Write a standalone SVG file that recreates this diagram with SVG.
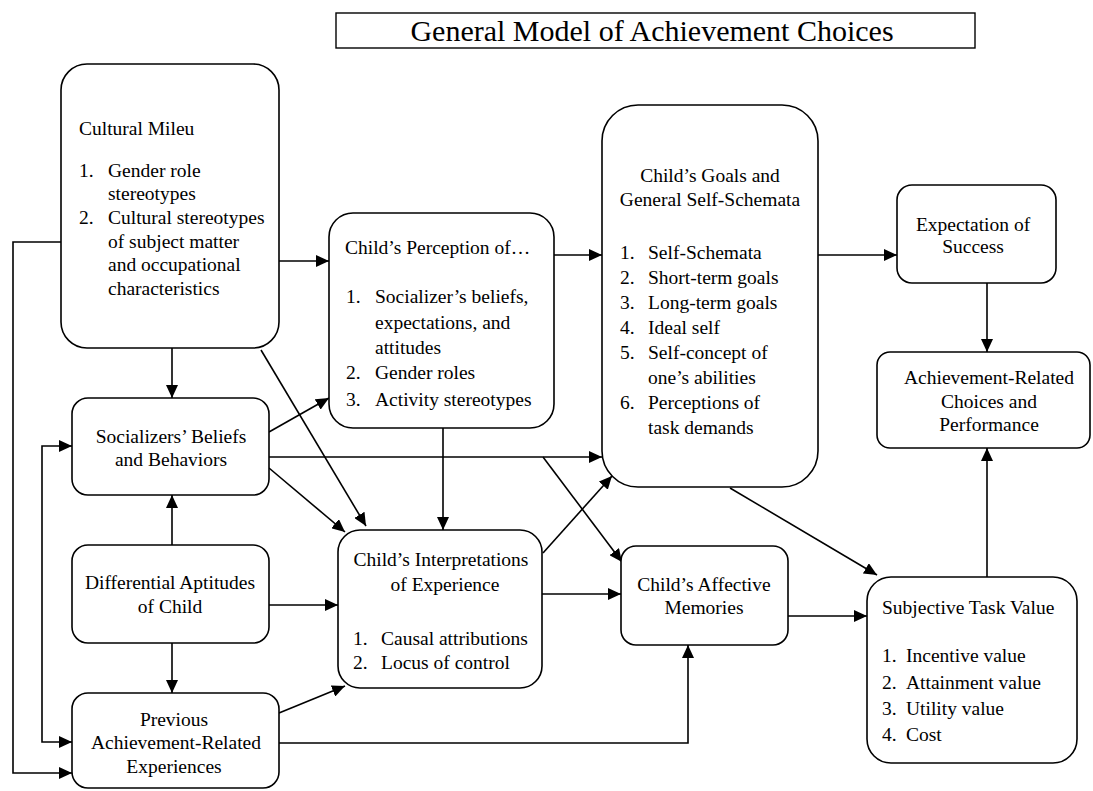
<svg xmlns="http://www.w3.org/2000/svg" width="1093" height="791" viewBox="0 0 1093 791">
  <defs>
    <marker id="arrow" markerUnits="userSpaceOnUse" markerWidth="14" markerHeight="12" refX="13" refY="6" orient="auto">
      <path d="M0,0 L13,6 L0,12 Z" fill="#000"/>
    </marker>
    <style>
      .box { fill: #fff; stroke: #000; stroke-width: 1.6; }
      .t { font-family: "Liberation Serif", "Times New Roman", serif; font-size: 19.5px; fill: #000; }
      .c { text-anchor: middle; }
      .title { font-family: "Liberation Serif", "Times New Roman", serif; font-size: 30px; fill: #000; text-anchor: middle; }
      .edge { fill: none; stroke: #000; stroke-width: 1.6; }
      .arr { marker-end: url(#arrow); }
    </style>
  </defs>
  <rect width="1093" height="791" fill="#fff"/>

  <g id="title">
    <rect x="336" y="13" width="639" height="35" fill="#fff" stroke="#000" stroke-width="1.4"/>
    <text class="title" x="652" y="41">General Model of Achievement Choices</text>
  </g>

  <g id="connectors">
    <path class="edge arr" d="M279,261 H329"/>
    <path class="edge arr" d="M172,348 V398"/>
    <path class="edge arr" d="M261,350 L366,526"/>
    <path class="edge arr" d="M61,242 H13 V773 H72"/>
    <path class="edge arr" d="M42,594 V446 H72"/>
    <path class="edge arr" d="M42,594 V742 H72"/>
    <path class="edge arr" d="M269,432 L329,398"/>
    <path class="edge arr" d="M269,457 H602"/>
    <path class="edge arr" d="M269,468 L345,532"/>
    <path class="edge arr" d="M543,457 L622,562"/>
    <path class="edge arr" d="M172,545 V495"/>
    <path class="edge arr" d="M172,643 V693"/>
    <path class="edge arr" d="M269,605 H338"/>
    <path class="edge arr" d="M279,713 L345,686"/>
    <path class="edge arr" d="M279,743 H688 V645"/>
    <path class="edge arr" d="M554,255 H602"/>
    <path class="edge arr" d="M443,428 V530"/>
    <path class="edge arr" d="M543,553 L612,476"/>
    <path class="edge arr" d="M542,594 H621"/>
    <path class="edge arr" d="M818,255 H897"/>
    <path class="edge arr" d="M730,488 L877,575"/>
    <path class="edge arr" d="M788,616 H867"/>
    <path class="edge arr" d="M987,283 V352"/>
    <path class="edge arr" d="M987,577 V448"/>
  </g>

  <g id="cultural-mileu">
    <rect class="box" x="61" y="64" width="218" height="284" rx="26"/>
    <text class="t" x="79" y="135">Cultural Mileu</text>
    <text class="t" x="79" y="177">1.</text>
    <text class="t" x="108" y="177">Gender role</text>
    <text class="t" x="108" y="200">stereotypes</text>
    <text class="t" x="79" y="224">2.</text>
    <text class="t" x="108" y="224">Cultural stereotypes</text>
    <text class="t" x="108" y="248">of subject matter</text>
    <text class="t" x="108" y="271">and occupational</text>
    <text class="t" x="108" y="295">characteristics</text>
  </g>

  <g id="socializers">
    <rect class="box" x="72" y="398" width="197" height="97" rx="16"/>
    <text class="t c" x="171" y="443">Socializers’ Beliefs</text>
    <text class="t c" x="171" y="466">and Behaviors</text>
  </g>

  <g id="aptitudes">
    <rect class="box" x="72" y="545" width="197" height="98" rx="16"/>
    <text class="t c" x="170" y="589">Differential Aptitudes</text>
    <text class="t c" x="170" y="613">of Child</text>
  </g>

  <g id="previous-experiences">
    <rect class="box" x="72" y="693" width="207" height="95" rx="16"/>
    <text class="t c" x="174" y="726">Previous</text>
    <text class="t c" x="176" y="749">Achievement-Related</text>
    <text class="t c" x="174" y="773">Experiences</text>
  </g>

  <g id="perception">
    <rect class="box" x="329" y="213" width="225" height="215" rx="24"/>
    <text class="t" x="345" y="254">Child’s Perception of…</text>
    <text class="t" x="346" y="303">1.</text>
    <text class="t" x="375" y="303">Socializer’s beliefs,</text>
    <text class="t" x="375" y="329">expectations, and</text>
    <text class="t" x="375" y="354">attitudes</text>
    <text class="t" x="346" y="379">2.</text>
    <text class="t" x="375" y="379">Gender roles</text>
    <text class="t" x="346" y="406">3.</text>
    <text class="t" x="375" y="406">Activity stereotypes</text>
  </g>

  <g id="interpretations">
    <rect class="box" x="338" y="530" width="204" height="158" rx="22"/>
    <text class="t c" x="441" y="566">Child’s Interpretations</text>
    <text class="t c" x="445" y="591">of Experience</text>
    <text class="t" x="353" y="645">1.</text>
    <text class="t" x="381" y="645">Causal attributions</text>
    <text class="t" x="353" y="669">2.</text>
    <text class="t" x="381" y="669">Locus of control</text>
  </g>

  <g id="goals">
    <rect class="box" x="602" y="105" width="216" height="382" rx="36"/>
    <text class="t c" x="710" y="182">Child’s Goals and</text>
    <text class="t c" x="710" y="206">General Self-Schemata</text>
    <text class="t" x="620" y="259">1.</text>
    <text class="t" x="648" y="259">Self-Schemata</text>
    <text class="t" x="620" y="284">2.</text>
    <text class="t" x="648" y="284">Short-term goals</text>
    <text class="t" x="620" y="309">3.</text>
    <text class="t" x="648" y="309">Long-term goals</text>
    <text class="t" x="620" y="334">4.</text>
    <text class="t" x="648" y="334">Ideal self</text>
    <text class="t" x="620" y="359">5.</text>
    <text class="t" x="648" y="359">Self-concept of</text>
    <text class="t" x="648" y="384">one’s abilities</text>
    <text class="t" x="620" y="409">6.</text>
    <text class="t" x="648" y="409">Perceptions of</text>
    <text class="t" x="648" y="434">task demands</text>
  </g>

  <g id="affective-memories">
    <rect class="box" x="621" y="546" width="167" height="99" rx="15"/>
    <text class="t c" x="704" y="591">Child’s Affective</text>
    <text class="t c" x="704" y="614">Memories</text>
  </g>

  <g id="expectation">
    <rect class="box" x="897" y="185" width="159" height="98" rx="15"/>
    <text class="t c" x="973" y="231">Expectation of</text>
    <text class="t c" x="973" y="253">Success</text>
  </g>

  <g id="achievement-choices">
    <rect class="box" x="877" y="352" width="213" height="96" rx="13"/>
    <text class="t c" x="989" y="384">Achievement-Related</text>
    <text class="t c" x="989" y="408">Choices and</text>
    <text class="t c" x="989" y="431">Performance</text>
  </g>

  <g id="task-value">
    <rect class="box" x="867" y="577" width="210" height="186" rx="24"/>
    <text class="t" x="882" y="614">Subjective Task Value</text>
    <text class="t" x="882" y="662">1.</text>
    <text class="t" x="906" y="662">Incentive value</text>
    <text class="t" x="882" y="689">2.</text>
    <text class="t" x="906" y="689">Attainment value</text>
    <text class="t" x="882" y="715">3.</text>
    <text class="t" x="906" y="715">Utility value</text>
    <text class="t" x="882" y="741">4.</text>
    <text class="t" x="906" y="741">Cost</text>
  </g>
</svg>
